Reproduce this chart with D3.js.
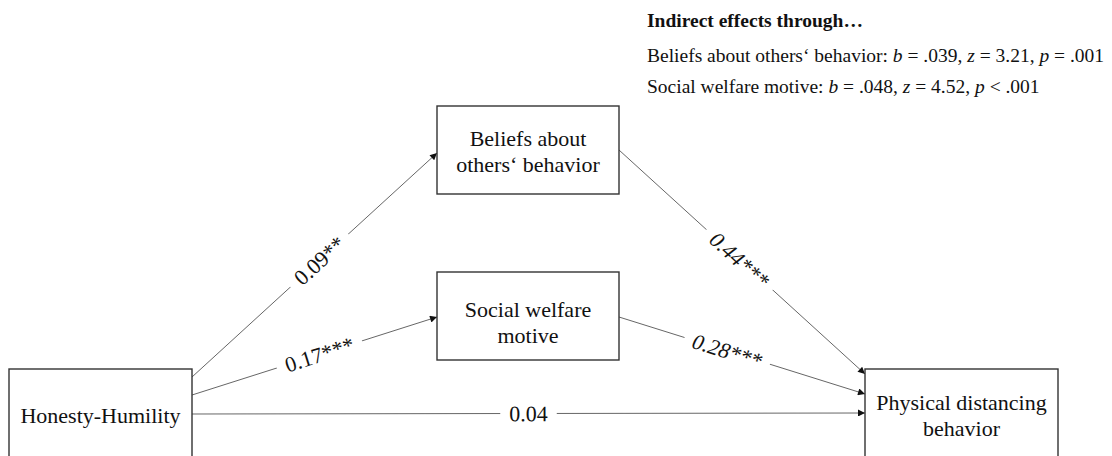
<!DOCTYPE html>
<html>
<head>
<meta charset="utf-8">
<script src="https://cdn.jsdelivr.net/npm/d3@7"></script>
<style>
  html, body { margin: 0; padding: 0; background: #fff; }
  svg { display: block; }
</style>
</head>
<body>
<script>
// ---------------- DATA ----------------
const nodeNames = ["Honesty-Humility", "Beliefs about others‘ behavior", "Social welfare motive", "Physical distancing behavior"];
const nodeLines = [["Honesty-Humility"], ["Beliefs about", "others‘ behavior"], ["Social welfare", "motive"], ["Physical distancing", "behavior"]];
const pathFrom = [0, 0, 0, 1, 2];
const pathTo = [1, 2, 3, 3, 3];
const pathCoefficients = ["0.09**", "0.17***", "0.04", "0.44***", "0.28***"];
const pathItalic = [false, false, false, true, true];
const indirectTitle = "Indirect effects through…";
const indirectMediators = ["Beliefs about others‘ behavior", "Social welfare motive"];
const indirectB = [".039", ".048"];
const indirectZ = ["3.21", "4.52"];
const indirectPOp = ["=", "<"];
const indirectP = [".001", ".001"];

// ---------------- LAYOUT ----------------
const W = 1112, H = 456;
const FONT = "'Liberation Serif', 'Times New Roman', serif";
const boxes = [
  {x0: 9, x1: 192, y0: 369, y1: 462, ty: 415},
  {x0: 437, x1: 619, y0: 106, y1: 194, ty: 151},
  {x0: 437, x1: 619, y0: 272, y1: 360, ty: 322},
  {x0: 865, x1: 1058, y0: 369, y1: 462, ty: 415}
];
// anchor y on source (right side) and target (left side) for each path
const srcY = [377, 395, 414, 150, 317];
const tgtY = [153, 317, 413, 374, 394];
const labelT = [0.52, 0.52, 0.5, 0.49, 0.44];

const svg = d3.select("body").append("svg").attr("width", W).attr("height", H);

svg.append("defs").append("marker")
  .attr("id", "arrow").attr("viewBox", "0 0 10 10")
  .attr("refX", 10).attr("refY", 5)
  .attr("markerWidth", 10).attr("markerHeight", 7)
  .attr("markerUnits", "userSpaceOnUse")
  .attr("orient", "auto")
  .append("path").attr("d", "M0,0 L10,5 L0,10 Z").attr("fill", "#111");

// paths
const paths = pathFrom.map((f, i) => ({
  x1: boxes[f].x1, y1: srcY[i],
  x2: boxes[pathTo[i]].x0, y2: tgtY[i],
  label: pathCoefficients[i], italic: pathItalic[i], t: labelT[i]
}));

svg.append("g").selectAll("line").data(paths).join("line")
  .attr("x1", d => d.x1).attr("y1", d => d.y1)
  .attr("x2", d => d.x2).attr("y2", d => d.y2)
  .attr("stroke", "#555").attr("stroke-width", 0.9)
  .attr("marker-end", "url(#arrow)");

// labels with white gaps
const lab = svg.append("g").selectAll("g").data(paths).join("g")
  .attr("transform", d => {
    const cx = d.x1 + (d.x2 - d.x1) * d.t;
    const cy = d.y1 + (d.y2 - d.y1) * d.t;
    const ang = Math.atan2(d.y2 - d.y1, d.x2 - d.x1) * 180 / Math.PI;
    return `translate(${cx},${cy}) rotate(${ang})`;
  });
lab.append("text")
  .attr("text-anchor", "middle").attr("dy", "0.35em")
  .attr("font-family", FONT).attr("font-size", 22)
  .attr("font-style", d => d.italic ? "italic" : "normal")
  .attr("fill", "#111")
  .text(d => d.label)
  .each(function() {
    const bb = this.getBBox();
    d3.select(this.parentNode).insert("rect", "text")
      .attr("x", bb.x - 9).attr("y", bb.y - 2)
      .attr("width", bb.width + 18).attr("height", bb.height + 4)
      .attr("fill", "#fff");
  });

// boxes
const nodeG = svg.append("g").selectAll("g").data(boxes).join("g");
nodeG.append("rect")
  .attr("x", d => d.x0).attr("y", d => d.y0)
  .attr("width", d => d.x1 - d.x0).attr("height", d => d.y1 - d.y0)
  .attr("fill", "#fff").attr("stroke", "#333").attr("stroke-width", 1.4);
nodeG.append("text")
  .attr("text-anchor", "middle")
  .attr("font-family", FONT).attr("font-size", 22).attr("fill", "#111")
  .attr("x", d => (d.x0 + d.x1) / 2)
  .each(function(d, i) {
    const lines = nodeLines[i];
    const lh = 26;
    const start = d.ty - (lines.length - 1) * lh / 2;
    d3.select(this).selectAll("tspan").data(lines).join("tspan")
      .attr("x", (d.x0 + d.x1) / 2)
      .attr("y", (l, j) => start + j * lh)
      .attr("dy", "0.35em")
      .text(l => l);
  });

// indirect effects text
const tx = 647;
const note = svg.append("g").attr("font-family", FONT).attr("fill", "#111");
note.append("text").attr("x", tx).attr("y", 27)
  .attr("font-weight", "bold").attr("font-size", 19.5).text(indirectTitle);
indirectMediators.forEach((m, i) => {
  const t = note.append("text").attr("x", tx).attr("y", 62 + i * 31).attr("font-size", 19.5);
  t.append("tspan").text(m + ": ");
  t.append("tspan").attr("font-style", "italic").text("b");
  t.append("tspan").text(" = " + indirectB[i] + ", ");
  t.append("tspan").attr("font-style", "italic").text("z");
  t.append("tspan").text(" = " + indirectZ[i] + ", ");
  t.append("tspan").attr("font-style", "italic").text("p");
  t.append("tspan").text(" " + indirectPOp[i] + " " + indirectP[i]);
});
</script>
</body>
</html>
